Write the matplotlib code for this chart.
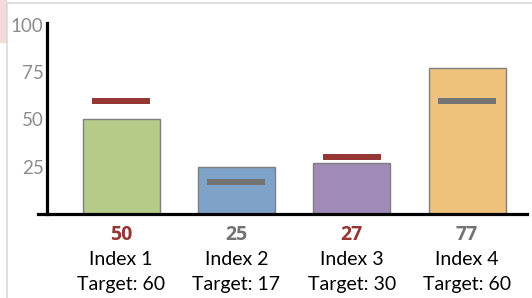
import numpy as np
import matplotlib.pyplot as plt
from matplotlib.patches import Rectangle
from matplotlib.lines import Line2D

#### データ ####
categories = ["Index 1", "Index 2", "Index 3", "Index 4"]
values = [50, 25, 27, 77]
targets = [60, 17, 30, 60]
bar_colors = ["#B5CC88", "#7FA3C8", "#A08AB7", "#EEC27C"]

RED = "#943634"
GRAY = "#737373"

plt.rcParams["font.family"] = ["Lato", "DejaVu Sans"]

fig = plt.figure(figsize=(5.32, 2.98), dpi=100)

# 背景の飾り (スクリーンショットの枠)
fig.patches.append(Rectangle((0, 1 - 42 / 298), 6 / 532, 42 / 298,
                             transform=fig.transFigure, color="#F2DCDB", zorder=0))
fig.lines.append(Line2D([6.5 / 532, 6.5 / 532], [0, 1 - 3 / 298], transform=fig.transFigure,
                        color="#D9D9D9", lw=1.2))
fig.lines.append(Line2D([6.5 / 532, 1], [1 - 3 / 298, 1 - 3 / 298], transform=fig.transFigure,
                        color="#D9D9D9", lw=1.2))

ax = fig.add_axes([47 / 532, 84 / 298, 480 / 532, 191 / 298])
x = np.arange(len(categories))

# 棒グラフ
ax.bar(x, values, width=0.668, color=bar_colors, edgecolor="#7F7F7F", linewidth=1, zorder=2)

# 目標値の線
tcolors = [RED if t > v else GRAY for v, t in zip(values, targets)]
ax.hlines(targets, x - 0.252, x + 0.252, colors=tcolors, linewidth=4.3, zorder=3,
          capstyle="butt")

ax.set_xlim(-0.642, 3.52)
ax.set_ylim(0, 101)
ax.set_yticks([25, 50, 75, 100])
ax.set_xticks([])
ax.tick_params(axis="y", length=0, pad=2.5, labelsize=13.5, labelcolor="#8C8C8C")

for s in ["top", "right", "bottom"]:
    ax.spines[s].set_visible(False)
ax.spines["left"].set_linewidth(2.3)
ax.spines["left"].set_color("black")

# x軸の線 (左に少しはみ出す)
ax.plot([-0.019, 1], [0, 0], transform=ax.get_yaxis_transform(), color="black",
        lw=2.3, clip_on=False, zorder=4)

# ラベル
tr = ax.get_xaxis_transform()
for xi, v, t, c in zip(x, values, targets, tcolors):
    ax.annotate(str(v), (xi, 0), xycoords=tr, xytext=(0, -15), textcoords="offset points",
                ha="center", va="center", fontsize=14, fontweight="bold", color=c,
                family=["Open Sans", "DejaVu Sans"])
    ax.annotate(categories[xi], (xi, 0), xycoords=tr, xytext=(0, -32.5),
                textcoords="offset points", ha="center", va="center", fontsize=14, color="black")
    ax.annotate(f"Target: {t}", (xi, 0), xycoords=tr, xytext=(0, -51),
                textcoords="offset points", ha="center", va="center", fontsize=14, color="black")

plt.savefig("out.png", dpi=100)
